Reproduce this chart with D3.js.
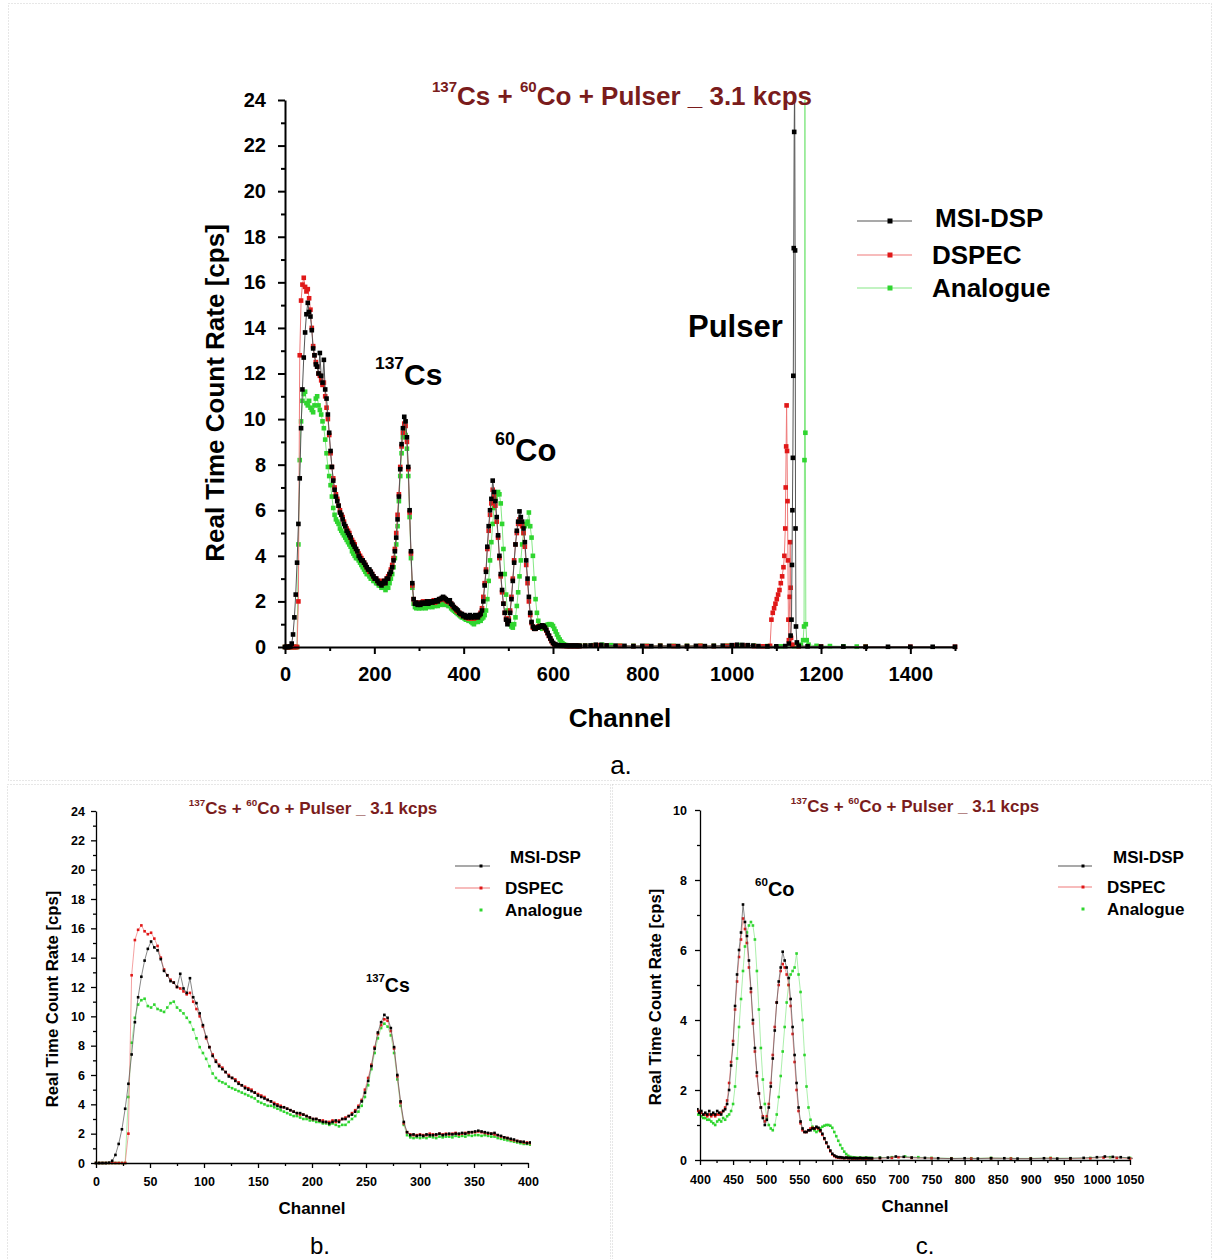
<!DOCTYPE html>
<html>
<head>
<meta charset="utf-8">
<script src="https://cdn.jsdelivr.net/npm/d3@7"></script>
<style>
  body { margin: 0; background: #fff; }
  text { font-family: "Liberation Sans", Arial, sans-serif; }
</style>
</head>
<body>
<svg id="fig" width="1214" height="1259"></svg>
<script>
// spectra, one value every 3 channels from 0 to 660
const mainChannels = d3.range(0, 661, 3);

const msiMain = [
  0, 0, 0, 0, 0.02, 0.15, 0.55, 1.3, 2.3, 3.7,
  5.4, 7.4, 9.6, 11.3, 12.7, 13.8, 14.6, 15.1, 14.7, 14.5,
  13.9, 13.1, 12.8, 12.4, 12.3, 12.0, 12.9, 11.9, 11.6, 12.6,
  11.3, 10.9, 10.2, 9.4, 8.6, 7.9, 7.3, 6.9, 6.6, 6.4,
  6.2, 5.9, 5.8, 5.6, 5.4, 5.3, 5.1, 5.0, 4.9, 4.8,
  4.6, 4.5, 4.4, 4.3, 4.2, 4.0, 3.9, 3.8, 3.8, 3.7,
  3.6, 3.5, 3.4, 3.4, 3.3, 3.2, 3.1, 3.0, 3.0, 2.9,
  2.8, 2.8, 2.7, 2.8, 2.9, 2.8, 3.0, 3.0, 3.2, 3.3,
  3.5, 3.8, 4.2, 4.8, 5.6, 6.6, 7.8, 8.9, 9.6, 10.1,
  9.9, 9.2, 7.9, 6.0, 4.2, 2.8, 2.1, 1.9, 1.95, 1.85,
  1.9, 1.85, 1.95, 1.9, 1.9, 1.95, 2.0, 1.9, 1.95, 2.0,
  1.95, 2.0, 2.0, 2.05, 2.0, 2.1, 2.1, 2.15, 2.2, 2.15,
  2.1, 2.05, 2.0, 2.05, 1.9, 1.85, 1.75, 1.7, 1.65, 1.6,
  1.5, 1.45, 1.45, 1.35, 1.4, 1.3, 1.35, 1.3, 1.4, 1.3,
  1.35, 1.3, 1.4, 1.35, 1.3, 1.4, 1.45, 1.6, 2.0, 2.7,
  3.3, 4.4, 5.3, 6.0, 6.5, 7.3, 6.8, 6.4, 5.7, 4.9,
  4.0, 3.2, 2.5, 1.9, 1.5, 1.2, 1.0, 1.15, 1.5, 2.1,
  2.9, 3.7, 4.5, 5.1, 5.5, 5.95, 5.7, 5.5, 5.2, 4.6,
  3.8, 3.0, 2.2, 1.5, 1.1, 0.9, 0.8, 0.8, 0.85, 0.85,
  0.9, 0.9, 0.95, 0.92, 0.85, 0.75, 0.62, 0.5, 0.38, 0.27,
  0.18, 0.13, 0.1, 0.08, 0.08, 0.07, 0.06, 0.07, 0.06, 0.06,
  0.05, 0.06, 0.05, 0.05, 0.06, 0.05, 0.05, 0.06, 0.05, 0.05,
  0.05
];

const dspecMain = [
  0, 0, 0, 0, 0, 0, 0, 0, 0, 0,
  2.0, 12.8, 15.2, 15.9, 16.2, 15.8, 15.6, 15.7, 15.3, 14.8,
  14.0, 13.2, 12.8, 12.5, 12.3, 12.0, 11.9, 11.7, 11.5, 11.6,
  11.0, 10.5, 10.0, 9.3, 8.5, 7.9, 7.4, 7.0, 6.7, 6.5,
  6.2, 6.0, 5.8, 5.7, 5.5, 5.3, 5.2, 5.1, 5.0, 4.8,
  4.7, 4.6, 4.5, 4.3, 4.2, 4.1, 4.0, 3.9, 3.8, 3.7,
  3.6, 3.5, 3.4, 3.3, 3.3, 3.2, 3.1, 3.0, 3.0, 2.9,
  2.9, 2.8, 2.8, 2.9, 2.8, 2.9, 3.0, 3.1, 3.2, 3.4,
  3.6, 3.9, 4.3, 5.0, 5.8, 6.7, 7.9, 8.8, 9.4, 9.8,
  9.7, 9.0, 7.8, 5.9, 4.1, 2.7, 2.1, 1.95, 1.9, 1.9,
  1.95, 1.9, 1.9, 2.0, 1.95, 1.9, 2.0, 1.95, 2.0, 1.95,
  2.0, 2.05, 1.95, 2.0, 2.05, 2.05, 2.1, 2.1, 2.15, 2.1,
  2.05, 2.0, 2.0, 1.95, 1.9, 1.8, 1.75, 1.7, 1.6, 1.55,
  1.5, 1.45, 1.4, 1.4, 1.35, 1.3, 1.3, 1.25, 1.3, 1.25,
  1.3, 1.25, 1.3, 1.3, 1.35, 1.4, 1.5, 1.7, 2.2, 2.8,
  3.4, 4.3, 5.1, 5.8, 6.3, 6.9, 6.6, 6.2, 5.5, 4.8,
  3.9, 3.1, 2.4, 1.9, 1.5, 1.25, 1.1, 1.25, 1.6, 2.2,
  3.0, 3.8, 4.5, 5.0, 5.4, 5.6, 5.5, 5.3, 5.0, 4.4,
  3.6, 2.8, 2.0, 1.4, 1.05, 0.85, 0.8, 0.8, 0.85, 0.9,
  0.92, 0.9, 0.92, 0.9, 0.82, 0.72, 0.6, 0.48, 0.36, 0.25,
  0.16, 0.11, 0.08, 0.07, 0.06, 0.06, 0.05, 0.06, 0.05, 0.05,
  0.05, 0.04, 0.05, 0.05, 0.04, 0.05, 0.05, 0.04, 0.05, 0.05,
  0.04
];

const analogMain = [
  0, 0, 0, 0, 0, 0, 0, 0, 0, 0,
  4.5, 8.2, 9.9, 10.8, 11.1, 11.2, 10.7, 10.6, 10.8, 10.5,
  10.4, 10.3, 10.6, 10.9, 11.0, 10.6, 10.4, 10.2, 9.9, 9.6,
  9.1, 8.5, 7.9, 7.5, 7.1, 6.6, 6.1, 5.8, 5.6, 5.5,
  5.4, 5.2, 5.1, 5.0, 4.9, 4.8, 4.7, 4.6, 4.5, 4.4,
  4.2, 4.1, 4.0, 3.9, 3.9, 3.8, 3.7, 3.6, 3.5, 3.4,
  3.3, 3.2, 3.2, 3.1, 3.0, 3.0, 2.9, 2.9, 2.8, 2.8,
  2.7, 2.7, 2.6, 2.7, 2.6, 2.5, 2.6, 2.6, 2.8, 3.0,
  3.2, 3.5, 3.9, 4.5, 5.3, 6.4, 7.5, 8.5, 9.2, 9.5,
  9.3, 8.7, 7.5, 5.7, 3.9, 2.6, 1.9, 1.75, 1.7, 1.75,
  1.7, 1.75, 1.7, 1.8, 1.75, 1.7, 1.8, 1.75, 1.8, 1.8,
  1.75, 1.85, 1.8, 1.85, 1.8, 1.9, 1.85, 1.9, 1.9, 1.85,
  1.9, 1.85, 1.8, 1.8, 1.7, 1.65, 1.6, 1.55, 1.5, 1.45,
  1.4, 1.35, 1.3, 1.3, 1.25, 1.2, 1.2, 1.15, 1.15, 1.1,
  1.05, 1.0, 1.1, 1.15, 1.1, 1.2, 1.15, 1.25, 1.3, 1.4,
  1.6, 2.1, 2.9, 3.8, 4.6, 5.4, 6.1, 6.5, 6.7, 6.8,
  6.7, 6.3, 5.4, 4.3, 3.2, 2.3, 1.6, 1.2, 1.0, 0.9,
  0.85, 1.0, 1.3, 1.8, 2.4, 3.1, 3.8, 4.5, 5.0, 5.3,
  5.4, 5.5, 5.9, 5.3, 4.8, 4.0, 3.0, 2.1, 1.5, 1.15,
  0.95, 0.85, 0.8, 0.85, 0.9, 0.95, 0.98, 1.0, 1.0, 0.98,
  0.92, 0.8, 0.68, 0.55, 0.43, 0.33, 0.24, 0.17, 0.12, 0.09,
  0.08, 0.07, 0.07, 0.06, 0.07, 0.06, 0.06, 0.07, 0.06, 0.06,
  0.06
];

// the rest of each spectrum as [channel, rate] pairs (pulser peaks included)
const msiTail = [
  [672, 0.06], [684, 0.07], [696, 0.1], [708, 0.09], [720, 0.07], [740, 0.06],
  [760, 0.05], [780, 0.04], [800, 0.05], [820, 0.04], [840, 0.05], [860, 0.05],
  [880, 0.04], [900, 0.04], [920, 0.05], [940, 0.04], [960, 0.05], [980, 0.06],
  [1000, 0.08], [1012, 0.1], [1024, 0.09], [1036, 0.08], [1048, 0.06], [1060, 0.04],
  [1080, 0.03], [1100, 0.03], [1120, 0.04], [1128, 0.15], [1132, 0.5], [1134, 1.2],
  [1135, 3.6], [1136, 6.0], [1137, 8.3], [1138, 11.9], [1139, 17.5], [1140, 22.6],
  [1141, 25], [1142, 17.4], [1143, 5.2], [1144, 0.9], [1146, 0.2], [1150, 0.05],
  [1170, 0.03], [1200, 0.02], [1250, 0.02], [1300, 0.01], [1350, 0.01], [1400, 0.01],
  [1450, 0.01], [1500, 0.01]
];

const dspecTail = [
  [672, 0.05], [690, 0.06], [700, 0.08], [720, 0.06], [750, 0.05], [780, 0.04],
  [810, 0.04], [840, 0.05], [870, 0.04], [900, 0.04], [930, 0.05], [960, 0.04],
  [990, 0.05], [1010, 0.07], [1030, 0.06], [1050, 0.04], [1070, 0.03], [1086, 0.05],
  [1089, 1.2], [1092, 1.5], [1095, 1.7], [1098, 1.9], [1101, 2.1], [1104, 2.3],
  [1107, 2.5], [1110, 2.8], [1113, 3.1], [1116, 3.5], [1118, 4.0], [1120, 5.2],
  [1121, 7.0], [1122, 8.8], [1123, 10.6], [1124, 8.6], [1125, 6.4], [1126, 3.8],
  [1127, 1.2], [1128, 0.3], [1130, 2.2], [1131, 4.6], [1132, 2.6], [1133, 0.4],
  [1136, 0.1], [1150, 0.03], [1200, 0.02], [1300, 0.01], [1400, 0.01], [1500, 0.01]
];

const analogTail = [
  [672, 0.07], [690, 0.08], [710, 0.1], [730, 0.08], [750, 0.06], [780, 0.05],
  [810, 0.05], [840, 0.06], [870, 0.05], [900, 0.05], [930, 0.06], [960, 0.05],
  [990, 0.06], [1020, 0.08], [1050, 0.06], [1080, 0.04], [1110, 0.03], [1140, 0.04],
  [1155, 0.1], [1160, 0.3], [1162, 0.9], [1163, 8.2], [1164, 25], [1165, 9.4],
  [1166, 1.0], [1168, 0.3], [1172, 0.1], [1190, 0.05], [1220, 0.04], [1250, 0.03],
  [1280, 0.02], [1300, 0.02]
];

const seriesNames = ["MSI-DSP", "DSPEC", "Analogue"];
const titleParts = [["137", true], ["Cs + ", false], ["60", true], ["Co + Pulser _ 3.1 kcps", false]];

function toPoints(main, tail) {
  return mainChannels.slice(0, main.length).map((c, i) => [c, main[i]]).concat(tail);
}

// drawing order: green under red under black
const series = [
  { name: "Analogue", pts: toPoints(analogMain, analogTail), dot: "#2fd52f", line: "#86e886" },
  { name: "DSPEC", pts: toPoints(dspecMain, dspecTail), dot: "#e01818", line: "#ef7a7a" },
  { name: "MSI-DSP", pts: toPoints(msiMain, msiTail), dot: "#000000", line: "#555555" }
];
const byName = new Map(series.map(s => [s.name, s]));

const charts = [
  {
    id: "a", xDom: [0, 1500], xRange: [285, 955], yDom: [0, 24], yRange: [647, 100],
    xMajor: d3.range(0, 1401, 200), xMinor: d3.range(100, 1501, 200),
    yMajor: d3.range(0, 25, 2), yMinor: d3.range(1, 24, 2),
    tick: [7, 4], font: 20, padX: 13, padY: 12, axisW: 2, marker: 4.6, lineW: 1,
    xTitle: { x: 620, y: 727, size: 26 }, yTitle: { x: 224, y: 393, size: 26 },
    title: { x: 622, y: 105, size: 26 },
    legend: { lx: [857, 912], mx: 890, ly: [221, 255, 288], ty: [218, 255, 288], tx: [935, 932, 932],
              size: 26, lines: [true, true, true], mk: 5 },
    notes: [{ type: "text", text: "Pulser", x: 688, y: 337, size: 31 },
            { type: "iso", mass: "137", sym: "Cs", x: 375, y: 385, size: 30 },
            { type: "iso", mass: "60", sym: "Co", x: 495, y: 461, size: 31 }],
    tag: { text: "a.", x: 621, y: 774, size: 26 }
  },
  {
    id: "b", xDom: [0, 400], xRange: [96, 528], yDom: [0, 24], yRange: [1163, 811],
    xMajor: d3.range(0, 401, 50), xMinor: d3.range(25, 400, 50),
    yMajor: d3.range(0, 25, 2), yMinor: d3.range(1, 24, 2),
    tick: [5, 3], font: 12.5, padX: 9, padY: 6, axisW: 1.3, marker: 2.6, lineW: 0.7,
    xTitle: { x: 312, y: 1214, size: 17 }, yTitle: { x: 58, y: 999, size: 16.7 },
    title: { x: 313, y: 814, size: 17 },
    legend: { lx: [455, 490], mx: 481, ly: [866, 888, 910], ty: [857, 888, 910], tx: [510, 505, 505],
              size: 17, lines: [true, true, false], mk: 3 },
    notes: [{ type: "iso", mass: "137", sym: "Cs", x: 366, y: 992, size: 19.5 }],
    tag: { text: "b.", x: 320, y: 1254, size: 24 }
  },
  {
    id: "c", xDom: [400, 1050], xRange: [700, 1130], yDom: [0, 10], yRange: [1160, 810],
    xMajor: d3.range(400, 1051, 50), xMinor: d3.range(425, 1050, 50),
    yMajor: d3.range(0, 11, 2), yMinor: d3.range(1, 10, 2),
    tick: [5, 3], font: 12.5, padX: 10, padY: 8, axisW: 1.3, marker: 2.6, lineW: 0.7,
    xTitle: { x: 915, y: 1212, size: 17 }, yTitle: { x: 661, y: 997, size: 16.7 },
    title: { x: 915, y: 812, size: 17 },
    legend: { lx: [1058, 1092], mx: 1083, ly: [866, 887, 909], ty: [857, 887, 909], tx: [1113, 1107, 1107],
              size: 17, lines: [true, true, false], mk: 3 },
    notes: [{ type: "iso", mass: "60", sym: "Co", x: 755, y: 896, size: 20 }],
    tag: { text: "c.", x: 925, y: 1254, size: 24 }
  }
];

const svg = d3.select("#fig");
svg.append("rect").attr("width", 1214).attr("height", 1259).attr("fill", "#fff");

// dotted panel frames
[[8.5, 3.5, 1203, 777], [7.5, 784.5, 603, 480], [612.5, 784.5, 599, 480]].forEach(r => {
  svg.append("rect").attr("x", r[0]).attr("y", r[1]).attr("width", r[2]).attr("height", r[3])
    .attr("fill", "none").attr("stroke", "#cfcfcf").attr("stroke-width", 1).attr("stroke-dasharray", "1,2");
});

function isotope(g, x, y, mass, sym, size, color) {
  const t = g.append("text").attr("x", x).attr("y", y).attr("font-weight", "bold")
    .attr("font-size", size).attr("fill", color || "#000");
  t.append("tspan").attr("font-size", size * 0.58).attr("dy", -size * 0.52).text(mass);
  t.append("tspan").attr("dy", size * 0.52).text(sym);
}

function drawChart(c) {
  const x = d3.scaleLinear().domain(c.xDom).range(c.xRange);
  const y = d3.scaleLinear().domain(c.yDom).range(c.yRange);
  const g = svg.append("g");

  svg.append("clipPath").attr("id", "clip" + c.id).append("rect")
    .attr("x", c.xRange[0] - 3).attr("y", c.yRange[1])
    .attr("width", c.xRange[1] - c.xRange[0] + 6).attr("height", c.yRange[0] - c.yRange[1] + 3);
  const plot = g.append("g").attr("clip-path", `url(#clip${c.id})`);

  const line = d3.line().x(p => x(p[0])).y(p => y(p[1]));
  series.forEach(s => {
    const pts = s.pts.filter(p => p[0] >= c.xDom[0] - 20 && p[0] <= c.xDom[1] + 20);
    plot.append("path").datum(pts).attr("d", line)
      .attr("fill", "none").attr("stroke", s.line).attr("stroke-width", c.lineW);
    plot.append("g").selectAll("rect").data(pts).join("rect")
      .attr("x", p => x(p[0]) - c.marker / 2).attr("y", p => y(p[1]) - c.marker / 2)
      .attr("width", c.marker).attr("height", c.marker).attr("fill", s.dot);
  });

  // axes
  const xa = g.append("g").attr("transform", `translate(0,${c.yRange[0]})`)
    .call(d3.axisBottom(x).tickValues(c.xMajor).tickSize(c.tick[0]).tickSizeOuter(0)
      .tickPadding(c.padX).tickFormat(d3.format("d")));
  const xm = g.append("g").attr("transform", `translate(0,${c.yRange[0]})`)
    .call(d3.axisBottom(x).tickValues(c.xMinor).tickSize(c.tick[1]).tickSizeOuter(0).tickFormat(""));
  const ya = g.append("g").attr("transform", `translate(${c.xRange[0]},0)`)
    .call(d3.axisLeft(y).tickValues(c.yMajor).tickSize(c.tick[0]).tickSizeOuter(0)
      .tickPadding(c.padY).tickFormat(d3.format("d")));
  const ym = g.append("g").attr("transform", `translate(${c.xRange[0]},0)`)
    .call(d3.axisLeft(y).tickValues(c.yMinor).tickSize(c.tick[1]).tickSizeOuter(0).tickFormat(""));
  xm.select(".domain").remove();
  ym.select(".domain").remove();
  [xa, xm, ya, ym].forEach(a => {
    a.selectAll(".domain, .tick line").attr("stroke", "#000").attr("stroke-width", c.axisW);
    a.selectAll("text").attr("font-family", "Liberation Sans, Arial, sans-serif")
      .attr("font-weight", "bold").attr("font-size", c.font).attr("fill", "#000");
  });

  // axis titles
  g.append("text").attr("x", c.xTitle.x).attr("y", c.xTitle.y).attr("text-anchor", "middle")
    .attr("font-weight", "bold").attr("font-size", c.xTitle.size).text("Channel");
  g.append("text").attr("transform", `translate(${c.yTitle.x},${c.yTitle.y}) rotate(-90)`)
    .attr("text-anchor", "middle").attr("font-weight", "bold").attr("font-size", c.yTitle.size)
    .text("Real Time Count Rate [cps]");

  // title
  const t = g.append("text").attr("x", c.title.x).attr("y", c.title.y).attr("text-anchor", "middle")
    .attr("font-weight", "bold").attr("font-size", c.title.size).attr("fill", "#7a1c1c");
  let raised = false;
  titleParts.forEach(([txt, sup]) => {
    const sp = t.append("tspan").text(txt);
    if (sup) { sp.attr("font-size", c.title.size * 0.58).attr("dy", -c.title.size * 0.5); raised = true; }
    else if (raised) { sp.attr("dy", c.title.size * 0.5); raised = false; }
  });

  // legend
  const L = c.legend;
  seriesNames.forEach((nm, i) => {
    const s = byName.get(nm);
    if (L.lines[i]) {
      g.append("line").attr("x1", L.lx[0]).attr("x2", L.lx[1]).attr("y1", L.ly[i]).attr("y2", L.ly[i])
        .attr("stroke", s.line).attr("stroke-width", 1.2);
    }
    g.append("rect").attr("x", L.mx - L.mk / 2).attr("y", L.ly[i] - L.mk / 2)
      .attr("width", L.mk).attr("height", L.mk).attr("fill", s.dot);
    g.append("text").attr("x", L.tx[i]).attr("y", L.ty[i]).attr("dominant-baseline", "central")
      .attr("font-weight", "bold").attr("font-size", L.size).text(nm);
  });

  // peak labels
  c.notes.forEach(n => {
    if (n.type === "iso") isotope(g, n.x, n.y, n.mass, n.sym, n.size);
    else g.append("text").attr("x", n.x).attr("y", n.y).attr("font-weight", "bold")
      .attr("font-size", n.size).text(n.text);
  });

  // panel tag
  g.append("text").attr("x", c.tag.x).attr("y", c.tag.y).attr("text-anchor", "middle")
    .attr("font-family", "Liberation Serif, Times New Roman, serif").attr("font-size", c.tag.size)
    .text(c.tag.text);
}

charts.forEach(drawChart);
</script>
</body>
</html>
